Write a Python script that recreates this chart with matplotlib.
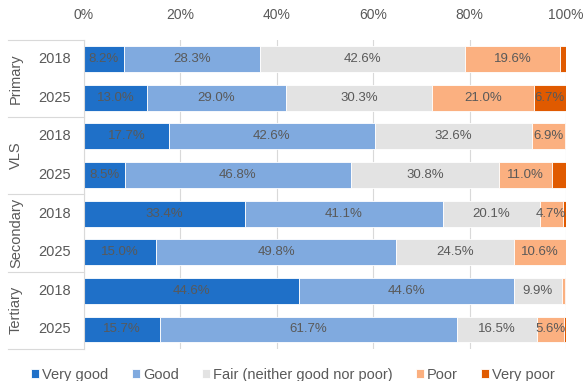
import matplotlib.pyplot as plt
import matplotlib.transforms as mtransforms
import numpy as np

plt.rcParams['font.family'] = ['Liberation Sans', 'DejaVu Sans']

groups = ['Primary', 'VLS', 'Secondary', 'Tertiary']
years = ['2018', '2025']
categories = ['Very good', 'Good', 'Fair (neither good nor poor)', 'Poor', 'Very poor']
colors = ['#1F70C8', '#80AADF', '#E3E3E3', '#FBB080', '#E05A00']

# one row per group/year, columns follow categories
very_good = [8.2, 13.0, 17.7, 8.5, 33.4, 15.0, 44.6, 15.7]
good = [28.3, 29.0, 42.6, 46.8, 41.1, 49.8, 44.6, 61.7]
fair = [42.6, 30.3, 32.6, 30.8, 20.1, 24.5, 9.9, 16.5]
poor = [19.6, 21.0, 6.9, 11.0, 4.7, 10.6, 0.6, 5.6]
very_poor = [1.3, 6.7, 0.2, 2.9, 0.7, 0.1, 0.3, 0.5]

series = [very_good, good, fair, poor, very_poor]
grey = '#595959'
n_rows = len(very_good)
y = np.arange(n_rows)

fig = plt.figure(figsize=(5.86, 3.81), dpi=100)
ax = fig.add_axes([84 / 586, 1 - 348.8 / 381, 482 / 586, 309.1 / 381])

left = np.zeros(n_rows)
for vals, col, name in zip(series, colors, categories):
    vals = np.array(vals)
    bars = ax.barh(y, vals, left=left, height=0.67, color=col,
                   edgecolor='white', linewidth=0.6, label=name, zorder=2)
    for b, v in zip(bars, vals):
        if v >= 4:
            ax.text(b.get_x() + b.get_width() / 2, b.get_y() + b.get_height() / 2,
                    f'{v:.1f}%', ha='center', va='center', fontsize=9.5,
                    color=grey, zorder=3)
    left += vals

ax.set_xlim(0, 100)
ax.set_ylim(n_rows - 0.5, -0.5)
ax.set_xticks(np.arange(0, 101, 20))
ax.set_xticklabels([f'{t}%' for t in range(0, 101, 20)])
ax.xaxis.tick_top()
ax.tick_params(axis='x', length=0, pad=13, labelsize=10, labelcolor=grey)
ax.set_yticks([])
ax.grid(axis='x', color='#D9D9D9', linewidth=0.8, zorder=0)
for side in ['top', 'right', 'bottom']:
    ax.spines[side].set_visible(False)
ax.spines['left'].set_color('#D9D9D9')

# category labels and group separators left of the axis
trans = mtransforms.blended_transform_factory(ax.transAxes, ax.transData)
x_line = -76 / 482
for i, g in enumerate(groups):
    for j, yr in enumerate(years):
        ax.text(-29.5 / 482, 2 * i + j, yr, transform=trans, ha='center',
                va='center', fontsize=10.5, color=grey)
    ax.text(-68 / 482, 2 * i + 0.5, g, transform=trans, ha='center',
            va='center', rotation=90, fontsize=10.5, color=grey)
for b in np.arange(-0.5, n_rows, 2):
    ax.plot([x_line, 0], [b, b], transform=trans, color='#D9D9D9',
            linewidth=0.8, clip_on=False)

fig.legend(loc='center', bbox_to_anchor=(0.5, 1 - 375 / 381), ncol=5,
           frameon=False, fontsize=10.5, labelcolor=grey, handlelength=0.55,
           handleheight=0.55, handletextpad=0.2, columnspacing=1.6,
           borderpad=0, borderaxespad=0)

fig.savefig('out.png', dpi=100)
